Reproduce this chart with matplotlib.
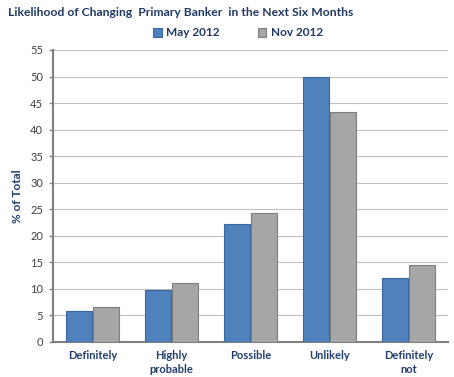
import matplotlib
matplotlib.use("Agg")
import matplotlib.pyplot as plt
import numpy as np

categories = ["Definitely", "Highly\nprobable", "Possible", "Unlikely", "Definitely\nnot"]
may_2012 = [5.8, 9.8, 22.2, 50.0, 12.0]
nov_2012 = [6.6, 11.1, 24.3, 43.4, 14.5]
series_names = ["May 2012", "Nov 2012"]
yticks = list(range(0, 56, 5))

title_color = "#1F3864"
label_color = "#1F3F6E"
blue = "#4F81BD"
gray = "#A6A6A6"

plt.rcParams['font.family'] = ['Lato', 'DejaVu Sans']

fig = plt.figure(figsize=(4.54, 3.77), dpi=100)
ax = fig.add_axes([53/454, 1-342/377, (448-53)/454, (342-50)/377])

x = np.arange(len(categories))
w = 0.32
gap = 0.02
b1 = ax.bar(x - w/2 - gap/2, may_2012, w, color=blue, edgecolor="#3A679E", linewidth=0.8, label=series_names[0], zorder=3)
b2 = ax.bar(x + w/2 + gap/2, nov_2012, w, color=gray, edgecolor="#7F7F7F", linewidth=0.8, label=series_names[1], zorder=3)

ax.set_xlim(-0.5, len(categories) - 0.5)
ax.set_ylim(0, 55)
ax.set_yticks(yticks)
ax.set_yticklabels([str(t) for t in yticks], fontsize=8, color="#404040")
ax.set_xticks(x)
ax.set_xticklabels(categories, fontsize=8, fontweight="bold", color=label_color, linespacing=1.3)
ax.tick_params(axis="x", length=0, pad=6)
ax.tick_params(axis="y", length=3, width=1, color="#808080", pad=4)
ax.yaxis.grid(True, color="#BFBFBF", linewidth=0.8, zorder=0)
ax.set_axisbelow(True)
for s in ["top", "right"]:
    ax.spines[s].set_visible(False)
for s in ["left", "bottom"]:
    ax.spines[s].set_color("#808080")
    ax.spines[s].set_linewidth(1.5)

ax.set_ylabel("% of Total", fontsize=8.5, fontweight="bold", color=label_color)
ax.yaxis.set_label_coords(-0.075, 0.5)

fig.text(8/454, 1-13/377, "Likelihood of Changing  Primary Banker  in the Next Six Months",
         fontsize=8.7, fontweight="bold", color=title_color, ha="left", va="center")

leg = fig.legend(handles=[b1, b2], labels=series_names, loc="center", bbox_to_anchor=(238/454, 1-33/377),
                 ncol=2, frameon=False, fontsize=8.5, handlelength=0.7, handleheight=0.7,
                 columnspacing=3.2, handletextpad=0.4)
for t in leg.get_texts():
    t.set_color(title_color)
    t.set_fontweight("bold")

fig.savefig("out.png", dpi=100)
